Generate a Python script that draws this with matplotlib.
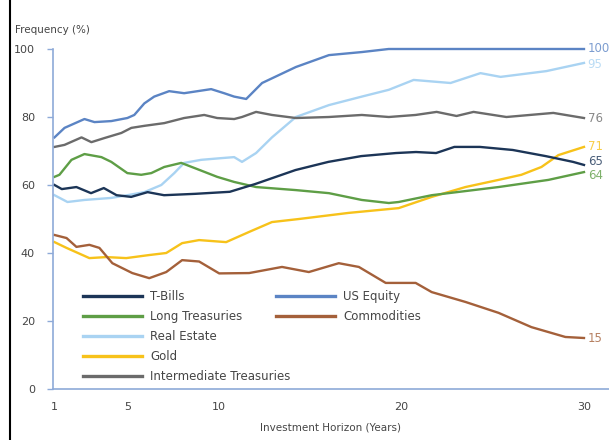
import matplotlib
matplotlib.use('Agg')
import matplotlib.pyplot as plt
from matplotlib.lines import Line2D

plt.rcParams['font.family'] = ['DejaVu Sans']

# values (x = investment horizon in years, y = frequency %)
tbills_x = [1, 1.4, 2.2, 3.0, 3.7, 4.4, 5.2, 6.1, 7.0, 8.7, 10.6, 12.0, 14.2, 16.0, 17.8, 19.7, 20.8, 21.9, 22.9, 24.3, 26.1, 27.9, 29.4, 30]
tbills_y = [60, 58.8, 59.4, 57.6, 59.1, 57, 56.5, 57.9, 57, 57.4, 58, 60.3, 64.4, 66.8, 68.5, 69.4, 69.7, 69.4, 71.2, 71.2, 70.3, 68.5, 66.8, 65.9]

equity_x = [1, 1.55, 2.64, 3.19, 4.11, 4.99, 5.37, 5.92, 6.46, 7.28, 8.1, 9.58, 10.29, 10.84, 11.5, 12.37, 14.22, 16.03, 17.83, 19.3, 30]
equity_y = [74, 76.8, 79.4, 78.5, 78.8, 79.7, 80.6, 84, 86, 87.6, 87, 88.2, 87, 86, 85.3, 90, 94.7, 98.2, 99.1, 100, 100]

longt_x = [1, 1.27, 1.93, 2.64, 3.57, 4.11, 4.99, 5.75, 6.3, 7.01, 7.94, 8.81, 9.91, 10.84, 12.04, 14.22, 16.03, 17.83, 19.31, 19.85, 21.66, 25.32, 28.05, 30]
longt_y = [62.4, 63, 67.4, 69.1, 68.2, 66.8, 63.5, 63, 63.5, 65.3, 66.5, 64.7, 62.4, 60.9, 59.4, 58.5, 57.6, 55.6, 54.7, 55, 57, 59.4, 61.5, 63.8]

comm_x = [1, 1.66, 2.2, 2.91, 3.46, 4.17, 5.26, 6.19, 7.12, 7.99, 8.92, 10.02, 11.66, 13.46, 14.93, 16.57, 17.67, 19.14, 20.78, 21.66, 23.51, 25.32, 27.12, 28.98, 30]
comm_y = [45.3, 44.4, 41.8, 42.4, 41.5, 37, 34.1, 32.6, 34.4, 37.9, 37.5, 34, 34.1, 35.9, 34.4, 37, 35.9, 31.2, 31.2, 28.5, 25.6, 22.4, 18.2, 15.3, 15]

real_x = [1, 1.71, 2.64, 4.11, 4.99, 5.92, 6.85, 7.56, 8.1, 9.03, 10.13, 10.84, 11.27, 12.04, 12.91, 14.22, 16.03, 17.83, 19.31, 20.67, 22.69, 24.33, 25.43, 27.94, 30]
real_y = [57, 55, 55.6, 56.2, 57, 57.9, 60, 63.5, 66.5, 67.4, 67.9, 68.2, 66.8, 69.4, 74, 80, 83.5, 86, 88, 90.9, 90, 92.9, 91.8, 93.5, 95.9]

gold_x = [1, 1.66, 2.91, 3.84, 4.93, 6.19, 7.12, 7.99, 8.92, 10.4, 11.66, 12.91, 14.39, 17.12, 19.85, 21.66, 23.51, 25.32, 26.57, 27.67, 28.6, 30]
gold_y = [43.2, 41.5, 38.5, 38.8, 38.5, 39.4, 40, 42.9, 43.8, 43.2, 46.2, 49.1, 50, 51.8, 53.2, 56.5, 59.4, 61.5, 63, 65.3, 68.8, 71.2]

inter_x = [1, 1.55, 2.48, 3.02, 3.73, 4.66, 5.21, 5.92, 7.01, 8.1, 9.2, 9.91, 10.84, 11.27, 12.04, 12.91, 14.22, 16.03, 17.83, 19.31, 20.78, 21.93, 23.02, 23.95, 25.75, 28.32, 30]
inter_y = [71.2, 71.8, 74, 72.6, 73.8, 75.3, 76.8, 77.4, 78.2, 79.7, 80.6, 79.7, 79.4, 80, 81.5, 80.6, 79.7, 80, 80.6, 80, 80.6, 81.5, 80.3, 81.5, 80, 81.2, 79.7]

end_labels = ['100', '95', '76', '71', '65', '64', '15']
end_label_y = [100, 95.5, 79.7, 71.2, 66.8, 62.8, 15]

x_ticks = [1, 5, 10, 20, 30]
y_ticks = [0, 20, 40, 60, 80, 100]

c_tbills = '#1c3557'
c_equity = '#5b84c4'
c_longt = '#5e9e46'
c_comm = '#a4603a'
c_real = '#a9d3f2'
c_gold = '#f7c21a'
c_inter = '#6b6b6b'
spine_c = '#8eaad8'
txt_c = '#454545'

fig = plt.figure(figsize=(6.09, 4.40), dpi=100)
ax = fig.add_axes([53 / 609, 51 / 440, 1 - 53 / 609, 340 / 440])

lw = 1.7
ax.plot(real_x, real_y, color=c_real, lw=lw)
ax.plot(gold_x, gold_y, color=c_gold, lw=lw)
ax.plot(longt_x, longt_y, color=c_longt, lw=lw)
ax.plot(comm_x, comm_y, color=c_comm, lw=lw)
ax.plot(inter_x, inter_y, color=c_inter, lw=lw)
ax.plot(tbills_x, tbills_y, color=c_tbills, lw=lw)
ax.plot(equity_x, equity_y, color=c_equity, lw=lw, clip_on=False)

end_colors = [c_equity, c_real, c_inter, c_gold, c_tbills, c_longt, c_comm]
for lab, yv, c in zip(end_labels, end_label_y, end_colors):
    ax.text(30.2, yv, lab, color=c, fontsize=8.5, ha='left', va='center', clip_on=False, alpha=0.8)

ax.set_xlim(0.918, 31.37)
ax.set_ylim(0, 100)
ax.set_xticks(x_ticks)
ax.set_yticks(y_ticks)
ax.tick_params(axis='x', length=0, pad=9, labelsize=8, labelcolor=txt_c)
ax.tick_params(axis='y', length=4, width=1, color=spine_c, pad=9, labelsize=8, labelcolor=txt_c)
for s in ['top', 'right']:
    ax.spines[s].set_visible(False)
for s in ['left', 'bottom']:
    ax.spines[s].set_color(spine_c)
    ax.spines[s].set_linewidth(1.2)

ax.set_xlabel('Investment Horizon (Years)', fontsize=7.5, color=txt_c, labelpad=8)
fig.text(15 / 609, 1 - 30 / 440, 'Frequency (%)', fontsize=7.5, color=txt_c, ha='left', va='center')

# legend in two blocks like the original
h1 = [Line2D([], [], color=c, lw=2.4) for c in [c_tbills, c_longt, c_real, c_gold, c_inter]]
l1 = ['T-Bills', 'Long Treasuries', 'Real Estate', 'Gold', 'Intermediate Treasuries']
h2 = [Line2D([], [], color=c, lw=2.4) for c in [c_equity, c_comm]]
l2 = ['US Equity', 'Commodities']
kw = dict(loc='upper left', frameon=False, borderpad=0, borderaxespad=0, handlelength=5.0,
          handletextpad=0.7, labelspacing=0.6, fontsize=8.5, labelcolor=txt_c)
leg1 = fig.legend(h1, l1, bbox_to_anchor=(83 / 609, 1 - 290 / 440), **kw)
leg2 = fig.legend(h2, l2, bbox_to_anchor=(276 / 609, 1 - 290 / 440), **kw)

# black frame line at the left edge
fig.add_artist(Line2D([9.5 / 609, 9.5 / 609], [0, 1], color='black', lw=1.5, transform=fig.transFigure))

fig.savefig('out.png', dpi=100)
